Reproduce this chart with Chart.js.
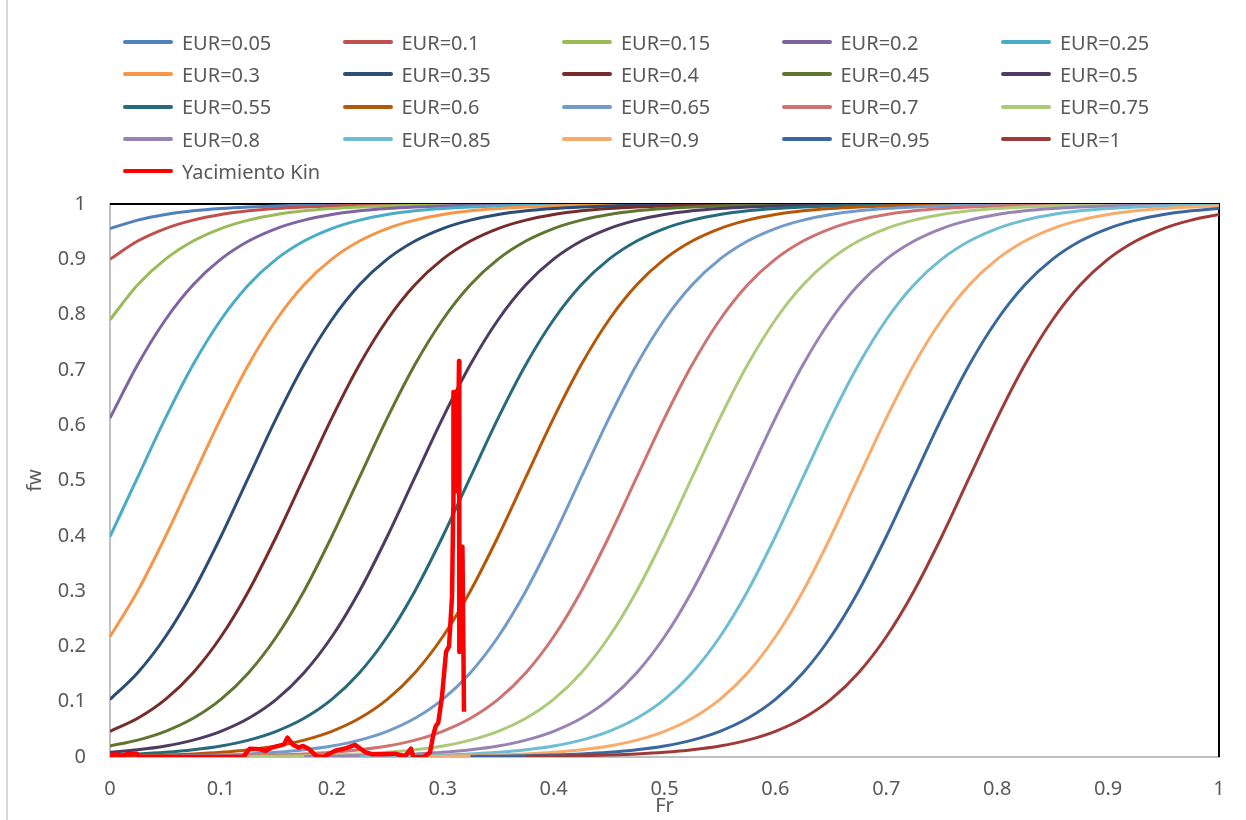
<!DOCTYPE html>
<html>
<head>
<meta charset="utf-8">
<script src="https://cdn.jsdelivr.net/npm/chart.js@4.4.1/dist/chart.umd.min.js"></script>
<style>
  html, body { margin: 0; padding: 0; background: #fff; }
  #wrap { position: relative; width: 1246px; height: 820px; overflow: hidden; font-family: "Noto Sans", sans-serif; }
  #frame { position: absolute; left: 6px; top: 0; height: 820px; border-left: 2px solid #d9d9d9; }
  #chart { position: absolute; left: 0; top: 0; }
  #legend { position: absolute; left: 123px; top: 26px; display: grid; grid-template-columns: repeat(5, 219.5px); grid-auto-rows: 32.3px; }
  .item { display: flex; align-items: center; font-size: 20px; color: #595959; white-space: nowrap; }
  .swatch { width: 50px; height: 4px; border-radius: 2px; margin-right: 9px; }
</style>
</head>
<body>
<div id="wrap">
  <div id="frame"></div>
  <canvas id="chart" width="1246" height="820"></canvas>
  <div id="legend"></div>
</div>
<script>
// x grid shared by all EUR curves
const frGrid = [0, 0.025, 0.05, 0.075, 0.1, 0.125, 0.15, 0.175, 0.2, 0.225, 0.25, 0.275, 0.3, 0.325, 0.35, 0.375, 0.4, 0.425, 0.45, 0.475,
  0.5, 0.525, 0.55, 0.575, 0.6, 0.625, 0.65, 0.675, 0.7, 0.725, 0.75, 0.775, 0.8, 0.825, 0.85, 0.875, 0.9, 0.925, 0.95, 0.975, 1];

const eurLabels = ["EUR=0.05", "EUR=0.1", "EUR=0.15", "EUR=0.2", "EUR=0.25", "EUR=0.3", "EUR=0.35", "EUR=0.4", "EUR=0.45", "EUR=0.5",
  "EUR=0.55", "EUR=0.6", "EUR=0.65", "EUR=0.7", "EUR=0.75", "EUR=0.8", "EUR=0.85", "EUR=0.9", "EUR=0.95", "EUR=1"];

const eurColors = ["#4F81BD", "#C0504D", "#9BBB59", "#8064A2", "#4BACC6", "#F79646", "#2C4D75", "#772C2A", "#5F7530", "#4D3B62",
  "#276A7C", "#B65708", "#729ACA", "#CD7371", "#AFC97A", "#9983B5", "#6FBDD1", "#F9AB6B", "#3A679C", "#9E3B38"];

// fw at frGrid (null = curve not drawn there)
const fw005 = [0.9556, 0.9708, 0.9809, 0.9876, 0.9919, 0.9947, 0.9966, 0.9978, 0.9986, 0.9991, 0.9994, 0.9996, 0.9997, 0.9998, 0.9999,
  1, 1, 1, 1, 1, 1, 1, 1, 1, 1, 1, 1, 1, 1, 1, 1, 1, 1, 1, 1, 1, 1, 1, 1, 1, 1];
const fw010 = [0.9002, 0.933, 0.9556, 0.9708, 0.9809, 0.9876, 0.9919, 0.9947, 0.9966, 0.9978, 0.9986, 0.9991, 0.9994, 0.9996, 0.9997, 0.9998, 0.9999,
  1, 1, 1, 1, 1, 1, 1, 1, 1, 1, 1, 1, 1, 1, 1, 1, 1, 1, 1, 1, 1, 1, 1, 1];
const fw015 = [0.7907, 0.8538, 0.9002, 0.933, 0.9556, 0.9708, 0.9809, 0.9876, 0.9919, 0.9947, 0.9966, 0.9978, 0.9986, 0.9991, 0.9994, 0.9996, 0.9997, 0.9998, 0.9999,
  1, 1, 1, 1, 1, 1, 1, 1, 1, 1, 1, 1, 1, 1, 1, 1, 1, 1, 1, 1, 1, 1];
const fw020 = [0.6128, 0.7097, 0.7907, 0.8538, 0.9002, 0.933, 0.9556, 0.9708, 0.9809, 0.9876, 0.9919, 0.9947, 0.9966, 0.9978, 0.9986, 0.9991, 0.9994, 0.9996, 0.9997, 0.9998, 0.9999,
  1, 1, 1, 1, 1, 1, 1, 1, 1, 1, 1, 1, 1, 1, 1, 1, 1, 1, 1, 1];
const fw025 = [0.3987, 0.506, 0.6128, 0.7097, 0.7907, 0.8538, 0.9002, 0.933, 0.9556, 0.9708, 0.9809, 0.9876, 0.9919, 0.9947, 0.9966, 0.9978, 0.9986, 0.9991, 0.9994, 0.9996, 0.9997, 0.9998, 0.9999,
  1, 1, 1, 1, 1, 1, 1, 1, 1, 1, 1, 1, 1, 1, 1, 1, 1, 1];
const fw030 = [0.2174, 0.3003, 0.3987, 0.506, 0.6128, 0.7097, 0.7907, 0.8538, 0.9002, 0.933, 0.9556, 0.9708, 0.9809, 0.9876, 0.9919, 0.9947, 0.9966, 0.9978, 0.9986, 0.9991, 0.9994, 0.9996, 0.9997, 0.9998, 0.9999,
  1, 1, 1, 1, 1, 1, 1, 1, 1, 1, 1, 1, 1, 1, 1, 1];
const fw035 = [0.1042, 0.1524, 0.2174, 0.3003, 0.3987, 0.506, 0.6128, 0.7097, 0.7907, 0.8538, 0.9002, 0.933, 0.9556, 0.9708, 0.9809, 0.9876, 0.9919, 0.9947, 0.9966, 0.9978, 0.9986, 0.9991, 0.9994, 0.9996, 0.9997, 0.9998, 0.9999,
  1, 1, 1, 1, 1, 1, 1, 1, 1, 1, 1, 1, 1, 1];
const fw040 = [0.0465, 0.07, 0.1042, 0.1524, 0.2174, 0.3003, 0.3987, 0.506, 0.6128, 0.7097, 0.7907, 0.8538, 0.9002, 0.933, 0.9556, 0.9708, 0.9809, 0.9876, 0.9919, 0.9947, 0.9966, 0.9978, 0.9986, 0.9991, 0.9994, 0.9996, 0.9997, 0.9998, 0.9999,
  1, 1, 1, 1, 1, 1, 1, 1, 1, 1, 1, 1];
const fw045 = [0.02, 0.0306, 0.0465, 0.07, 0.1042, 0.1524, 0.2174, 0.3003, 0.3987, 0.506, 0.6128, 0.7097, 0.7907, 0.8538, 0.9002, 0.933, 0.9556, 0.9708, 0.9809, 0.9876, 0.9919, 0.9947, 0.9966, 0.9978, 0.9986, 0.9991, 0.9994, 0.9996, 0.9997, 0.9998, 0.9999,
  1, 1, 1, 1, 1, 1, 1, 1, 1, 1];
const fw050 = [0.0085, 0.0131, 0.02, 0.0306, 0.0465, 0.07, 0.1042, 0.1524, 0.2174, 0.3003, 0.3987, 0.506, 0.6128, 0.7097, 0.7907, 0.8538, 0.9002, 0.933, 0.9556, 0.9708, 0.9809, 0.9876, 0.9919, 0.9947, 0.9966, 0.9978, 0.9986, 0.9991, 0.9994, 0.9996, 0.9997, 0.9998, 0.9999,
  1, 1, 1, 1, 1, 1, 1, 1];
const fw055 = [0.0036, 0.0055, 0.0085, 0.0131, 0.02, 0.0306, 0.0465, 0.07, 0.1042, 0.1524, 0.2174, 0.3003, 0.3987, 0.506, 0.6128, 0.7097, 0.7907, 0.8538, 0.9002, 0.933, 0.9556, 0.9708, 0.9809, 0.9876, 0.9919, 0.9947, 0.9966, 0.9978, 0.9986, 0.9991, 0.9994, 0.9996, 0.9997, 0.9998, 0.9999,
  1, 1, 1, 1, 1, 1];
const fw060 = [0.0015, 0.0023, 0.0036, 0.0055, 0.0085, 0.0131, 0.02, 0.0306, 0.0465, 0.07, 0.1042, 0.1524, 0.2174, 0.3003, 0.3987, 0.506, 0.6128, 0.7097, 0.7907, 0.8538, 0.9002, 0.933, 0.9556, 0.9708, 0.9809, 0.9876, 0.9919, 0.9947, 0.9966, 0.9978, 0.9986, 0.9991, 0.9994, 0.9996, 0.9997, 0.9998, 0.9999,
  1, 1, 1, 1];
const fw065 = [null, 0.001, 0.0015, 0.0023, 0.0036, 0.0055, 0.0085, 0.0131, 0.02, 0.0306, 0.0465, 0.07, 0.1042, 0.1524, 0.2174, 0.3003, 0.3987, 0.506, 0.6128, 0.7097, 0.7907, 0.8538, 0.9002, 0.933, 0.9556, 0.9708, 0.9809, 0.9876, 0.9919, 0.9947, 0.9966, 0.9978, 0.9986, 0.9991, 0.9994, 0.9996, 0.9997, 0.9998, 0.9999,
  1, 1];
const fw070 = [null, null, null, 0.001, 0.0015, 0.0023, 0.0036, 0.0055, 0.0085, 0.0131, 0.02, 0.0306, 0.0465, 0.07, 0.1042, 0.1524, 0.2174, 0.3003, 0.3987, 0.506, 0.6128, 0.7097, 0.7907, 0.8538, 0.9002, 0.933, 0.9556, 0.9708, 0.9809, 0.9876, 0.9919, 0.9947, 0.9966, 0.9978, 0.9986, 0.9991, 0.9994, 0.9996, 0.9997, 0.9998, 0.9999];
const fw075 = [null, null, null, null, null, 0.001, 0.0015, 0.0023, 0.0036, 0.0055, 0.0085, 0.0131, 0.02, 0.0306, 0.0465, 0.07, 0.1042, 0.1524, 0.2174, 0.3003, 0.3987, 0.506, 0.6128, 0.7097, 0.7907, 0.8538, 0.9002, 0.933, 0.9556, 0.9708, 0.9809, 0.9876, 0.9919, 0.9947, 0.9966, 0.9978, 0.9986, 0.9991, 0.9994, 0.9996, 0.9997];
const fw080 = [null, null, null, null, null, null, null, 0.001, 0.0015, 0.0023, 0.0036, 0.0055, 0.0085, 0.0131, 0.02, 0.0306, 0.0465, 0.07, 0.1042, 0.1524, 0.2174, 0.3003, 0.3987, 0.506, 0.6128, 0.7097, 0.7907, 0.8538, 0.9002, 0.933, 0.9556, 0.9708, 0.9809, 0.9876, 0.9919, 0.9947, 0.9966, 0.9978, 0.9986, 0.9991, 0.9994];
const fw085 = [null, null, null, null, null, null, null, null, null, 0.001, 0.0015, 0.0023, 0.0036, 0.0055, 0.0085, 0.0131, 0.02, 0.0306, 0.0465, 0.07, 0.1042, 0.1524, 0.2174, 0.3003, 0.3987, 0.506, 0.6128, 0.7097, 0.7907, 0.8538, 0.9002, 0.933, 0.9556, 0.9708, 0.9809, 0.9876, 0.9919, 0.9947, 0.9966, 0.9978, 0.9986];
const fw090 = [null, null, null, null, null, null, null, null, null, null, null, 0.001, 0.0015, 0.0023, 0.0036, 0.0055, 0.0085, 0.0131, 0.02, 0.0306, 0.0465, 0.07, 0.1042, 0.1524, 0.2174, 0.3003, 0.3987, 0.506, 0.6128, 0.7097, 0.7907, 0.8538, 0.9002, 0.933, 0.9556, 0.9708, 0.9809, 0.9876, 0.9919, 0.9947, 0.9966];
const fw095 = [null, null, null, null, null, null, null, null, null, null, null, null, null, 0.001, 0.0015, 0.0023, 0.0036, 0.0055, 0.0085, 0.0131, 0.02, 0.0306, 0.0465, 0.07, 0.1042, 0.1524, 0.2174, 0.3003, 0.3987, 0.506, 0.6128, 0.7097, 0.7907, 0.8538, 0.9002, 0.933, 0.9556, 0.9708, 0.9809, 0.9876, 0.9919];
const fw100 = [null, null, null, null, null, null, null, null, null, null, null, null, null, null, null, 0.001, 0.0015, 0.0023, 0.0036, 0.0055, 0.0085, 0.0131, 0.02, 0.0306, 0.0465, 0.07, 0.1042, 0.1524, 0.2174, 0.3003, 0.3987, 0.506, 0.6128, 0.7097, 0.7907, 0.8538, 0.9002, 0.933, 0.9556, 0.9708, 0.9809];

const fwCurves = [fw005, fw010, fw015, fw020, fw025, fw030, fw035, fw040, fw045, fw050,
  fw055, fw060, fw065, fw070, fw075, fw080, fw085, fw090, fw095, fw100];

// Yacimiento Kin field data
const kinFr = [0, 0.005, 0.01, 0.015, 0.02, 0.024, 0.027, 0.12, 0.126, 0.135, 0.14, 0.146, 0.152, 0.157, 0.16, 0.165, 0.17,
  0.174, 0.179, 0.186, 0.192, 0.204, 0.213, 0.221, 0.23, 0.236, 0.246, 0.257, 0.266, 0.2714, 0.2735, 0.2825, 0.2885,
  0.2915, 0.2936, 0.296, 0.2994, 0.303, 0.3057, 0.3084, 0.3095, 0.3097, 0.3115, 0.3125, 0.3135, 0.3147, 0.315, 0.3178, 0.3192];
const kinFw = [0.003, 0.005, 0.002, 0.005, 0.005, 0.006, 0, 0, 0.015, 0.014, 0.011, 0.017, 0.02, 0.023, 0.035, 0.022, 0.017,
  0.02, 0.015, 0.002, 0, 0.012, 0.016, 0.022, 0.009, 0.005, 0.005, 0.006, 0.001, 0.015, 0, 0, 0.008,
  0.04, 0.055, 0.062, 0.11, 0.19, 0.2, 0.29, 0.45, 0.66, 0.48, 0.66, 0.5, 0.716, 0.19, 0.38, 0.082];

const textColor = "#595959";
const font = { family: "Noto Sans", size: 20 };
const tickLabel = v => String(Math.round(v * 10) / 10);

// build datasets
const datasets = eurLabels.map((lab, i) => ({
  label: lab,
  data: frGrid.map((x, j) => ({ x: x, y: fwCurves[i][j] })).filter(p => p.y !== null),
  borderColor: eurColors[i],
  borderWidth: 3,
  pointRadius: 0,
  cubicInterpolationMode: "monotone",
  order: 100 - i
}));
datasets.push({
  label: "Yacimiento Kin",
  data: kinFr.map((x, j) => ({ x: x, y: kinFw[j] })),
  borderColor: "#FF0000",
  borderWidth: 4.5,
  borderJoinStyle: "round",
  pointRadius: 0,
  tension: 0,
  order: 0
});

// black frame on top and right of the plot area
const plotFrame = {
  id: "plotFrame",
  beforeDatasetsDraw(chart) {
    const { ctx, chartArea: a } = chart;
    ctx.save();
    ctx.strokeStyle = "#000";
    ctx.lineWidth = 2;
    ctx.beginPath();
    ctx.moveTo(a.left, a.top);
    ctx.lineTo(a.right, a.top);
    ctx.lineTo(a.right, a.bottom);
    ctx.stroke();
    ctx.restore();
  }
};

const chart = new Chart(document.getElementById("chart"), {
  type: "line",
  data: { datasets: datasets },
  plugins: [plotFrame],
  options: {
    responsive: false,
    animation: false,
    layout: { padding: { top: 204, right: 27, left: 0, bottom: 0 } },
    plugins: { legend: { display: false }, tooltip: { enabled: false } },
    scales: {
      x: {
        type: "linear", min: 0, max: 1,
        ticks: { stepSize: 0.1, padding: 20, color: textColor, font: font, maxRotation: 0, callback: tickLabel },
        grid: { display: false, drawTicks: false },
        border: { color: "#bfbfbf", width: 2 },
        title: { display: true, text: "Fr", color: textColor, font: font, padding: { top: 0, bottom: 2 } },
        afterFit(s) { s.height = 63; }
      },
      y: {
        type: "linear", min: 0, max: 1,
        ticks: { stepSize: 0.1, padding: 24, color: textColor, font: font, callback: tickLabel },
        grid: { display: false, drawTicks: false },
        border: { color: "#bfbfbf", width: 2 },
        title: { display: true, text: "fw", color: textColor, font: font, padding: { top: 23, bottom: 0 } },
        afterFit(s) { s.width = 110; }
      }
    }
  }
});

// legend in 5 columns, from the datasets
const legendEl = document.getElementById("legend");
chart.data.datasets.forEach(ds => {
  const item = document.createElement("div");
  item.className = "item";
  item.innerHTML = `<span class="swatch" style="background:${ds.borderColor}"></span><span>${ds.label}</span>`;
  legendEl.appendChild(item);
});
</script>
</body>
</html>
